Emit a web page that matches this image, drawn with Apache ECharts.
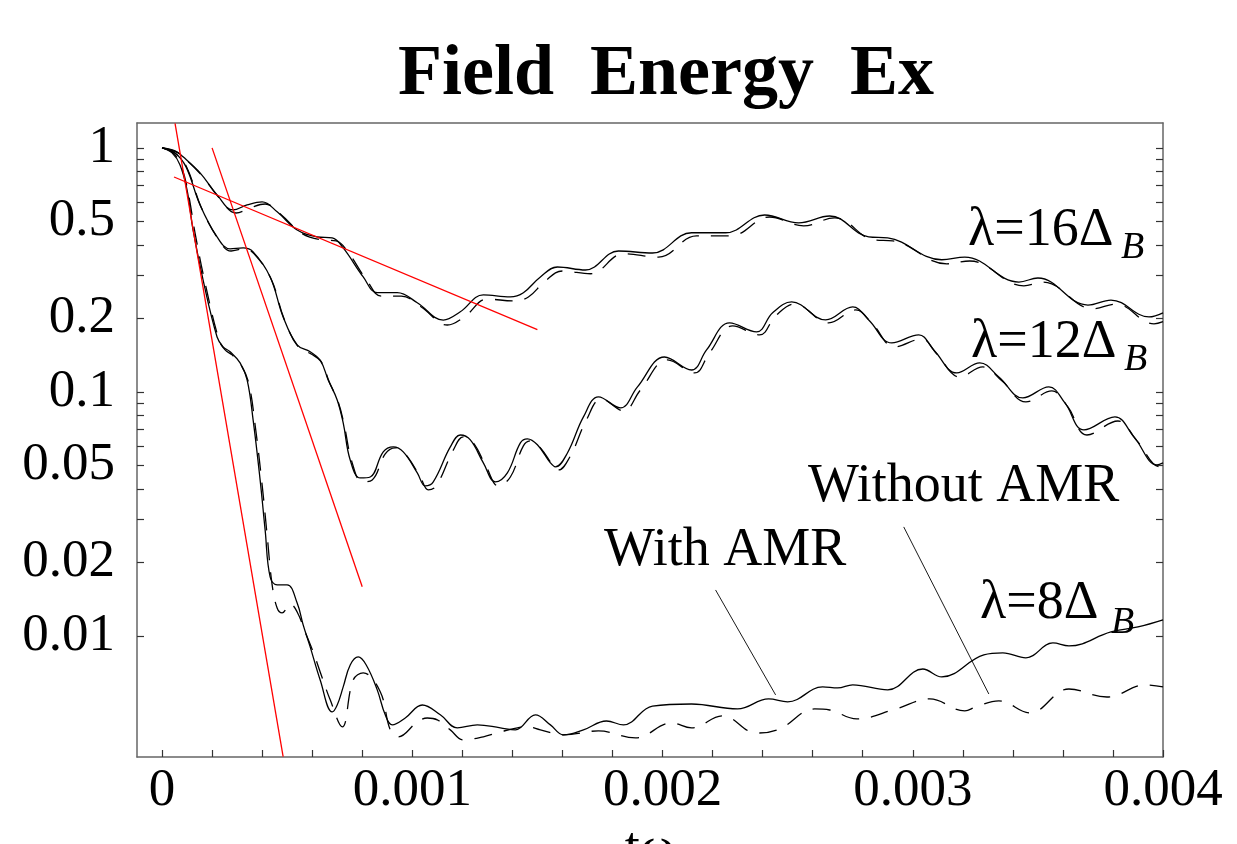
<!DOCTYPE html>
<html><head><meta charset="utf-8">
<script src="https://cdn.jsdelivr.net/npm/echarts@6/dist/echarts.min.js"></script>
<style>html,body{margin:0;padding:0;background:#fff}#c{width:1237px;height:844px}</style>
</head><body><div id="c"></div>
<script>
// ---- axis ticks / labels ----
const yLabelValues = [1, 0.5, 0.2, 0.1, 0.05, 0.02, 0.01];
const yTickValues = [1, 0.9, 0.8, 0.7, 0.6, 0.5, 0.4, 0.3, 0.2, 0.1, 0.09, 0.08, 0.07, 0.06, 0.05, 0.04, 0.03, 0.02, 0.01];
const xLabelValues = [0, 0.001, 0.002, 0.003, 0.004];
const xTickValues = [0, 0.0002, 0.0004, 0.0006, 0.0008, 0.001, 0.0012, 0.0014, 0.0016, 0.0018, 0.002, 0.0022, 0.0024, 0.0026, 0.0028, 0.003, 0.0032, 0.0034, 0.0036, 0.0038, 0.004];

// ---- lambda = 16 Delta_B ----
const t16 = [0, 0.000052, 0.000084, 0.000152, 0.00022, 0.000284, 0.00034, 0.0004, 0.00046, 0.00054, 0.00062, 0.00068, 0.000724, 0.000804, 0.00086, 0.00094, 0.00102, 0.001124, 0.001192, 0.001284, 0.001392, 0.001444, 0.001512, 0.00158, 0.001692, 0.001824, 0.00196, 0.002116, 0.002252, 0.002408, 0.002544, 0.002668, 0.002824, 0.0029, 0.003116, 0.003208, 0.003424, 0.0035, 0.0037, 0.003792, 0.003944, 0.004];
const e16 = [1, 0.972, 0.919, 0.790, 0.642, 0.557, 0.584, 0.601, 0.547, 0.461, 0.432, 0.428, 0.389, 0.296, 0.255, 0.255, 0.232, 0.197, 0.213, 0.250, 0.245, 0.255, 0.296, 0.325, 0.316, 0.378, 0.371, 0.449, 0.449, 0.531, 0.493, 0.526, 0.432, 0.428, 0.348, 0.357, 0.282, 0.293, 0.227, 0.238, 0.203, 0.211];
const t16d = [0, 0.000056, 0.000088, 0.00016, 0.000228, 0.000296, 0.000352, 0.000412, 0.000476, 0.000556, 0.000636, 0.000696, 0.00074, 0.00082, 0.000876, 0.000956, 0.001036, 0.00114, 0.001208, 0.0013, 0.001408, 0.001464, 0.001532, 0.0016, 0.001712, 0.001844, 0.001984, 0.002136, 0.002272, 0.002428, 0.002564, 0.002688, 0.002844, 0.00292, 0.003136, 0.003228, 0.003444, 0.00352, 0.00372, 0.003812, 0.003964, 0.004];
const e16d = [1, 0.963, 0.910, 0.768, 0.624, 0.541, 0.568, 0.589, 0.532, 0.448, 0.42, 0.416, 0.378, 0.285, 0.247, 0.247, 0.223, 0.188, 0.203, 0.24, 0.236, 0.245, 0.285, 0.313, 0.305, 0.368, 0.357, 0.436, 0.436, 0.521, 0.479, 0.517, 0.42, 0.416, 0.335, 0.344, 0.272, 0.282, 0.219, 0.229, 0.19, 0.194];

// ---- lambda = 12 Delta_B ----
const t12 = [0, 0.000052, 0.000096, 0.000152, 0.00022, 0.000272, 0.000324, 0.000364, 0.000432, 0.000484, 0.00054, 0.000592, 0.000632, 0.000664, 0.0007, 0.000724, 0.000752, 0.000792, 0.000832, 0.000884, 0.000924, 0.000964, 0.00102, 0.001052, 0.001084, 0.001152, 0.001192, 0.001232, 0.001284, 0.001332, 0.00138, 0.001432, 0.00146, 0.0015, 0.001552, 0.001572, 0.00162, 0.001684, 0.001744, 0.001832, 0.0019, 0.002008, 0.002116, 0.002176, 0.002268, 0.002376, 0.00244, 0.002516, 0.002652, 0.00276, 0.002824, 0.002916, 0.003024, 0.003084, 0.003176, 0.003268, 0.003344, 0.00344, 0.003544, 0.003608, 0.003684, 0.003808, 0.003884, 0.003976, 0.004];
const e12 = [1, 0.954, 0.836, 0.584, 0.432, 0.386, 0.389, 0.375, 0.296, 0.203, 0.156, 0.146, 0.135, 0.112, 0.0927, 0.0746, 0.0526, 0.0444, 0.0448, 0.0568, 0.0595, 0.0568, 0.0466, 0.0412, 0.0428, 0.0595, 0.0666, 0.0636, 0.0512, 0.0428, 0.0466, 0.0618, 0.0642, 0.0607, 0.0512, 0.0493, 0.0562, 0.079, 0.0954, 0.086, 0.1048, 0.139, 0.123, 0.1486, 0.1918, 0.1762, 0.2109, 0.2338, 0.1973, 0.223, 0.1973, 0.1588, 0.1713, 0.1486, 0.1197, 0.1315, 0.1152, 0.0945, 0.1048, 0.0901, 0.0699, 0.079, 0.0654, 0.0502, 0.0512];
const t12d = [0, 0.000056, 0.0001, 0.000156, 0.000224, 0.000276, 0.000328, 0.000368, 0.000436, 0.000488, 0.000544, 0.000596, 0.000636, 0.000668, 0.000704, 0.000728, 0.00076, 0.0008, 0.00084, 0.000892, 0.000932, 0.000972, 0.001032, 0.001064, 0.001096, 0.001164, 0.001204, 0.001244, 0.001296, 0.001344, 0.001392, 0.001444, 0.001472, 0.001512, 0.001564, 0.001584, 0.001632, 0.001696, 0.001756, 0.001844, 0.001912, 0.00202, 0.002128, 0.002188, 0.00228, 0.002388, 0.002452, 0.002528, 0.002664, 0.002772, 0.002836, 0.002928, 0.003036, 0.003096, 0.003188, 0.00328, 0.003356, 0.003452, 0.003556, 0.00362, 0.003696, 0.00382, 0.003896, 0.003988, 0.004];
const e12d = [1, 0.945, 0.828, 0.573, 0.424, 0.378, 0.386, 0.368, 0.29, 0.199, 0.153, 0.143, 0.133, 0.11, 0.091, 0.0732, 0.0512, 0.0428, 0.0436, 0.0557, 0.059, 0.0557, 0.0448, 0.0397, 0.0412, 0.0578, 0.0654, 0.0618, 0.0493, 0.0412, 0.0448, 0.0601, 0.063, 0.059, 0.0497, 0.0479, 0.0547, 0.0768, 0.0936, 0.0836, 0.1019, 0.1353, 0.1197, 0.1445, 0.1864, 0.1713, 0.2049, 0.2294, 0.1918, 0.2168, 0.1918, 0.153, 0.1649, 0.143, 0.1152, 0.1266, 0.111, 0.091, 0.1009, 0.0868, 0.0666, 0.076, 0.063, 0.0493, 0.0497];

// ---- lambda = 8 Delta_B ----
const t8 = [0, 0.00004, 0.000072, 0.0001, 0.000124, 0.000164, 0.00022, 0.000244, 0.000272, 0.000312, 0.00034, 0.000364, 0.000392, 0.000412, 0.000432, 0.00046, 0.0005, 0.00054, 0.000564, 0.000592, 0.000632, 0.00068, 0.0007, 0.000724, 0.000752, 0.000784, 0.000816, 0.00086, 0.000892, 0.00092, 0.000972, 0.00104, 0.001112, 0.00118, 0.00126, 0.001352, 0.001412, 0.001492, 0.001552, 0.001604, 0.001684, 0.001776, 0.001844, 0.00196, 0.002116, 0.0023, 0.002424, 0.0025, 0.00264, 0.0027, 0.00276, 0.0029, 0.00304, 0.003116, 0.003284, 0.00336, 0.003452, 0.00356, 0.003624, 0.003792, 0.0039, 0.004];
const e8 = [1, 0.954, 0.852, 0.673, 0.461, 0.288, 0.168, 0.153, 0.146, 0.1315, 0.112, 0.0768, 0.0436, 0.0272, 0.01745, 0.0162, 0.0162, 0.01365, 0.0111, 0.00902, 0.0066, 0.00488, 0.00521, 0.00618, 0.0076, 0.0082, 0.0076, 0.00601, 0.00475, 0.00432, 0.00461, 0.00521, 0.00475, 0.0042, 0.00432, 0.0042, 0.00412, 0.00475, 0.00432, 0.00393, 0.00412, 0.00448, 0.00432, 0.00516, 0.00526, 0.00502, 0.00552, 0.00537, 0.00618, 0.00612, 0.0063, 0.00601, 0.00732, 0.00679, 0.00836, 0.00852, 0.00813, 0.00936, 0.0091, 0.01038, 0.01088, 0.01163];
const t8d = [0, 0.000044, 0.000076, 0.000104, 0.000132, 0.000172, 0.000228, 0.000252, 0.00028, 0.00032, 0.000348, 0.000372, 0.0004, 0.00042, 0.00044, 0.00046, 0.00048, 0.000512, 0.00054, 0.000572, 0.000604, 0.000632, 0.000672, 0.00072, 0.000764, 0.000804, 0.000872, 0.000912, 0.000944, 0.00102, 0.00106, 0.0011, 0.001152, 0.001204, 0.001284, 0.001352, 0.00142, 0.00146, 0.001512, 0.001604, 0.001744, 0.001892, 0.002036, 0.002116, 0.00224, 0.002376, 0.002468, 0.002608, 0.002668, 0.002776, 0.002932, 0.003068, 0.003208, 0.003252, 0.003344, 0.003468, 0.003624, 0.003776, 0.003932, 0.004];
const e8d = [1, 0.954, 0.844, 0.66, 0.448, 0.28, 0.163, 0.1486, 0.1418, 0.1266, 0.1068, 0.0732, 0.0416, 0.0259, 0.0162, 0.01302, 0.01243, 0.01352, 0.01254, 0.01038, 0.0086, 0.00712, 0.00547, 0.00424, 0.0066, 0.00705, 0.0059, 0.00412, 0.00386, 0.00444, 0.00461, 0.00453, 0.00412, 0.00375, 0.00386, 0.00404, 0.0042, 0.00424, 0.00412, 0.00393, 0.00408, 0.00382, 0.0044, 0.0042, 0.0047, 0.004, 0.00416, 0.00502, 0.00497, 0.00457, 0.00502, 0.00552, 0.00493, 0.00512, 0.00542, 0.00484, 0.00606, 0.00562, 0.0063, 0.00618];

// ---- red exponential-fit lines ----
const redAt = [0.000052, 0.000484], redAe = [1.26, 0.0032];
const redBt = [0.0002, 0.0008], redBe = [1.0, 0.0159];
const redCt = [0.000048, 0.0015], redCe = [0.76, 0.18];

// ---- annotation leader lines ----
const withT = [0.002212, 0.002452], withE = [0.01543, 0.00573];
const withoutT = [0.002964, 0.003304], withoutE = [0.02797, 0.00578];

const pair = (t, e) => t.map((v, i) => [v, e[i]]);
const FONT = "'Liberation Serif', 'DejaVu Serif', serif";
const Y_MIN = 0.00319, Y_MAX = 1.265;

function solid(t, e) {
  return { type: 'line', data: pair(t, e), smooth: 0.4, symbol: 'none', clip: true,
           lineStyle: { color: '#000', width: 1.3 }, z: 3 };
}
function dashed(t, e) {
  return { type: 'line', data: pair(t, e), smooth: 0.4, symbol: 'none', clip: true,
           lineStyle: { color: '#000', width: 1.3, type: [18, 12] }, z: 3 };
}
function red(t, e) {
  return { type: 'line', data: pair(t, e), symbol: 'none', clip: true,
           lineStyle: { color: '#ff0000', width: 1.3 }, z: 4 };
}
function leader(t, e) {
  return { type: 'line', data: pair(t, e), symbol: 'none', clip: true,
           lineStyle: { color: '#000', width: 0.9 }, z: 2 };
}

const yAxisBase = {
  type: 'log', logBase: 10, min: Y_MIN, max: Y_MAX,
  axisLine: { show: true, onZero: false, lineStyle: { color: '#666', width: 1.5 } },
  axisTick: { show: true, inside: true, length: 7, customValues: yTickValues, lineStyle: { color: '#333', width: 1.2 } },
  splitLine: { show: false }, minorTick: { show: false }
};

const chart = echarts.init(document.getElementById('c'));
chart.setOption({
  animation: false,
  backgroundColor: '#fff',
  title: {
    text: 'Field  Energy  Ex', left: 393, top: 34,
    textStyle: { fontFamily: FONT, fontWeight: 'bold', fontSize: 72, color: '#000' }
  },
  grid: { left: 137, right: 74, top: 123, bottom: 87, containLabel: false, outerBoundsMode: 'none' },
  xAxis: [{
    type: 'value', min: -0.0001, max: 0.004, position: 'bottom',
    name: 'tω', nameLocation: 'middle', nameGap: 60,
    nameTextStyle: { fontFamily: FONT, fontSize: 54, color: '#000' },
    axisLine: { show: true, onZero: false, lineStyle: { color: '#666', width: 1.5 } },
    axisTick: { show: true, inside: true, length: 7, customValues: xTickValues, lineStyle: { color: '#333', width: 1.2 } },
    axisLabel: { show: true, customValues: xLabelValues, margin: 8, showMinLabel: true, showMaxLabel: true,
      fontFamily: FONT, fontSize: 53, color: '#000',
      formatter: v => (v === 0 ? '0' : Number(v).toFixed(3)) },
    splitLine: { show: false }
  }, {
    type: 'value', min: -0.0001, max: 0.004, position: 'top',
    axisLine: { show: true, onZero: false, lineStyle: { color: '#666', width: 1.5 } },
    axisTick: { show: false }, axisLabel: { show: false }, splitLine: { show: false }
  }],
  yAxis: [Object.assign({}, yAxisBase, {
    position: 'left',
    axisLabel: { show: true, customValues: yLabelValues, margin: 22, fontFamily: FONT, fontSize: 53, color: '#000',
      formatter: v => String(+Number(v).toPrecision(3)) }
  }), Object.assign({}, yAxisBase, {
    position: 'right', axisLabel: { show: false }
  })],
  series: [
    solid(t16, e16), dashed(t16d, e16d),
    solid(t12, e12), dashed(t12d, e12d),
    solid(t8, e8), dashed(t8d, e8d),
    red(redAt, redAe), red(redBt, redBe), red(redCt, redCe),
    leader(withT, withE), leader(withoutT, withoutE)
  ],
  graphic: [
    { type: 'text', x: 968, y: 231, style: { text: 'λ=16Δ', font: `54px ${FONT}`, fill: '#000', verticalAlign: 'middle', align: 'left' } },
    { type: 'text', x: 1121, y: 248, style: { text: 'B', font: `italic 38px ${FONT}`, fill: '#000', verticalAlign: 'middle', align: 'left' } },
    { type: 'text', x: 971, y: 343, style: { text: 'λ=12Δ', font: `54px ${FONT}`, fill: '#000', verticalAlign: 'middle', align: 'left' } },
    { type: 'text', x: 1124, y: 360, style: { text: 'B', font: `italic 38px ${FONT}`, fill: '#000', verticalAlign: 'middle', align: 'left' } },
    { type: 'text', x: 980, y: 604, style: { text: 'λ=8Δ', font: `54px ${FONT}`, fill: '#000', verticalAlign: 'middle', align: 'left' } },
    { type: 'text', x: 1111, y: 623, style: { text: 'B', font: `italic 38px ${FONT}`, fill: '#000', verticalAlign: 'middle', align: 'left' } },
    { type: 'text', x: 604, y: 551, style: { text: 'With AMR', font: `54px ${FONT}`, fill: '#000', verticalAlign: 'middle', align: 'left' } },
    { type: 'text', x: 808, y: 487, style: { text: 'Without AMR', font: `54px ${FONT}`, fill: '#000', verticalAlign: 'middle', align: 'left' } }
  ]
});
</script>
</body></html>
